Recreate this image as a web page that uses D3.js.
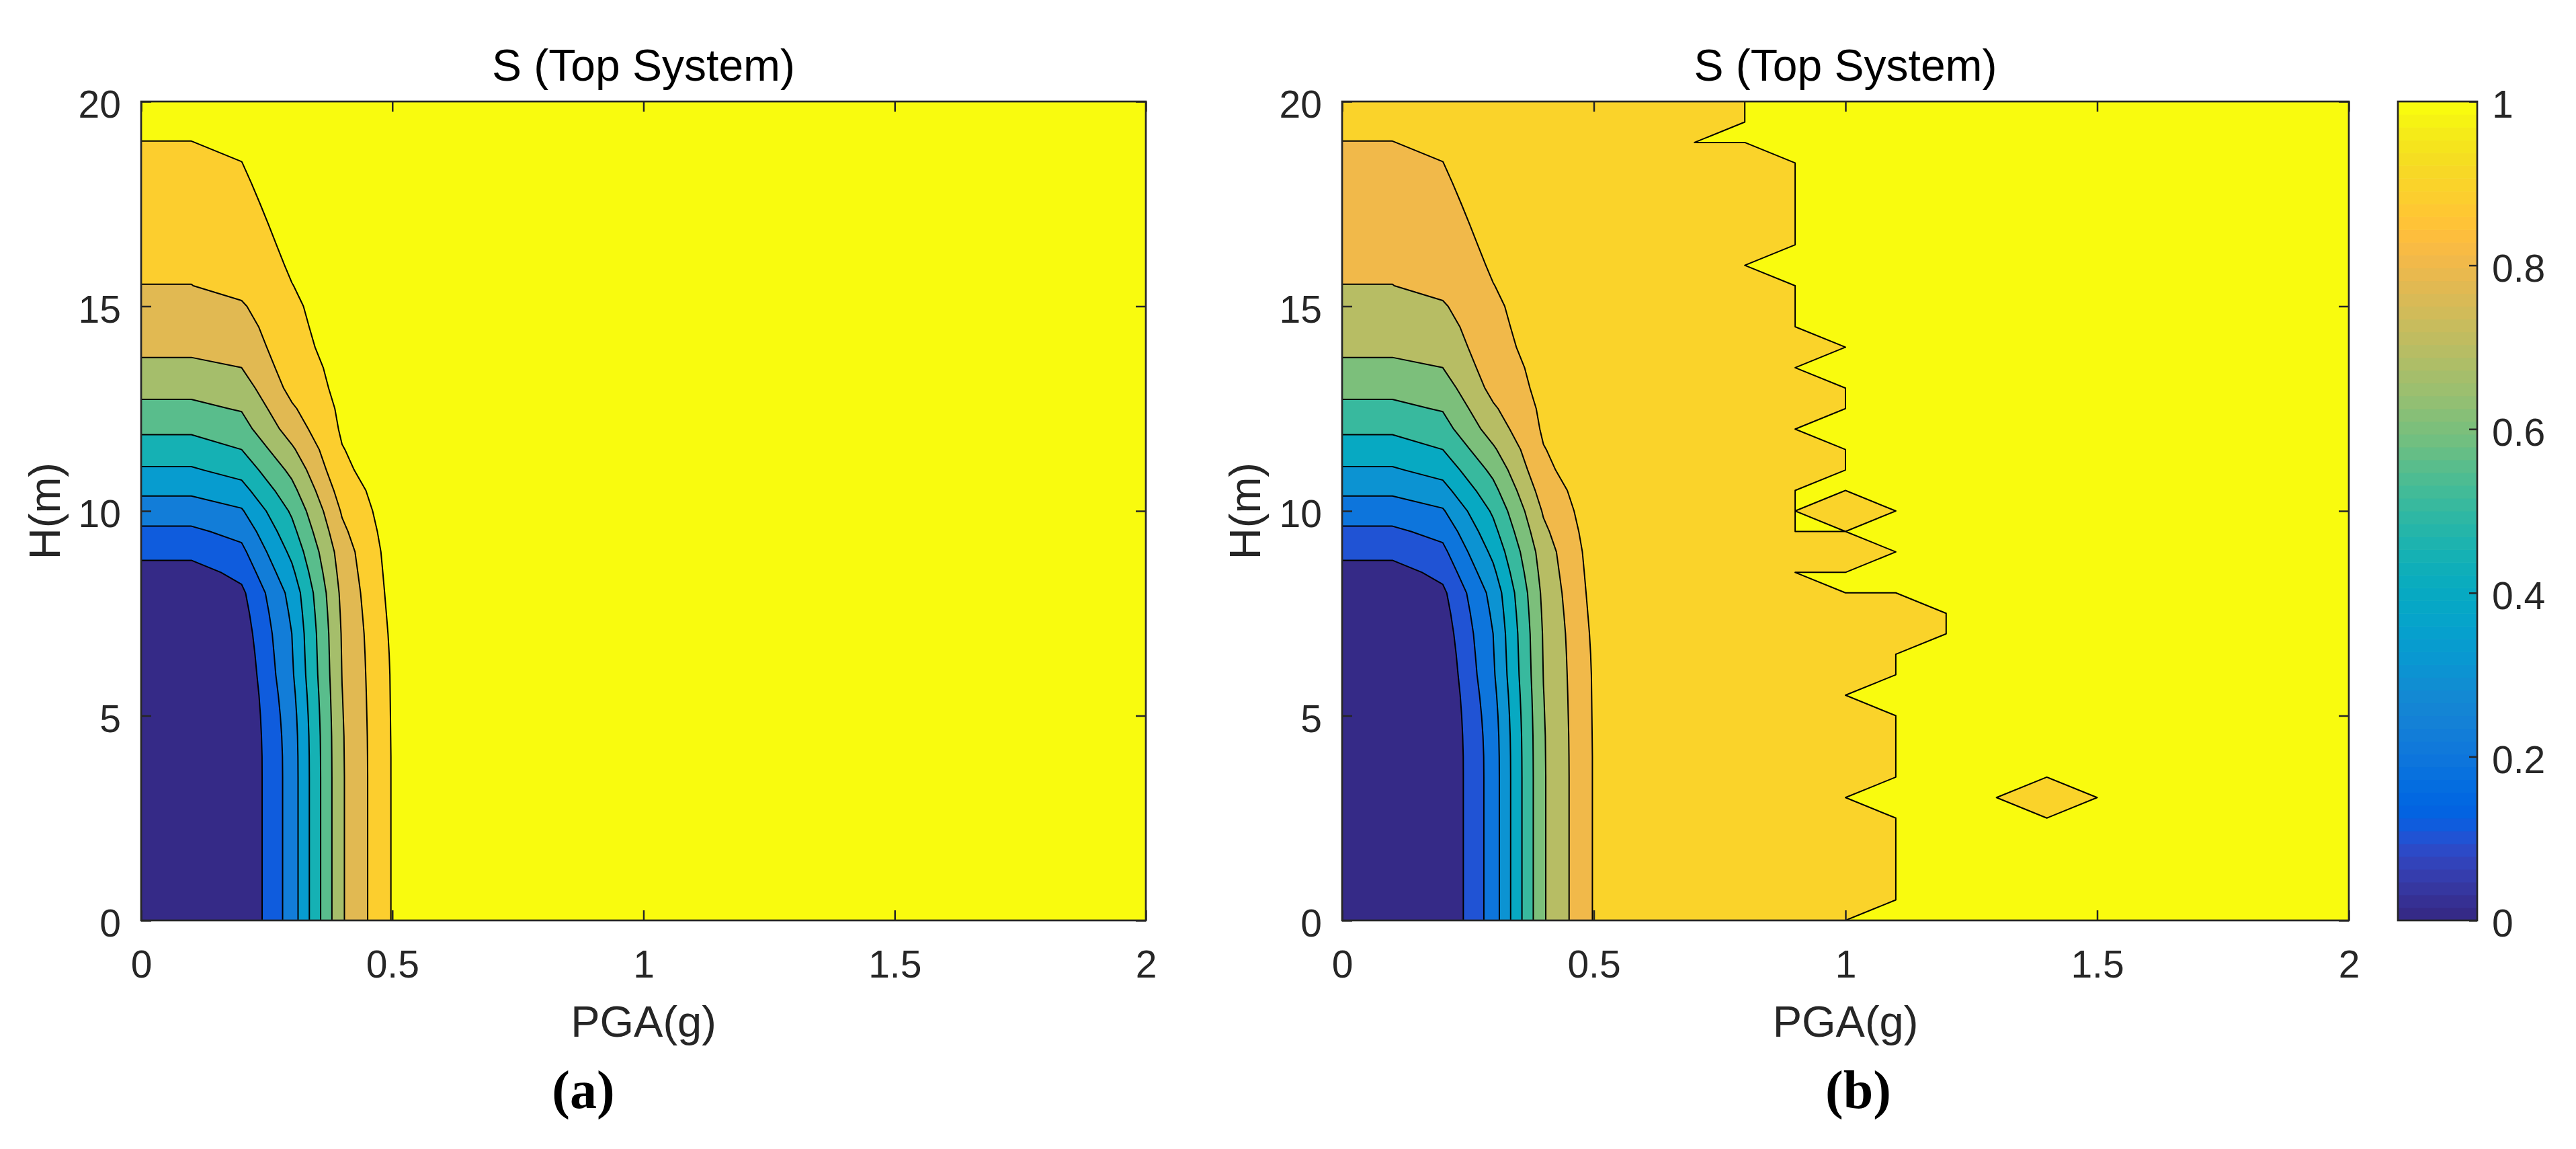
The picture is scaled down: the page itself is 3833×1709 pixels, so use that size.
<!DOCTYPE html>
<html>
<head>
<meta charset="utf-8">
<script src="https://cdn.jsdelivr.net/npm/d3@7"></script>
<style>
  html, body { margin: 0; padding: 0; background: #fff; }
  svg { display: block; }
  text { font-family: "Liberation Sans", Arial, Helvetica, sans-serif; }
</style>
</head>
<body>
<svg id="fig" width="3833" height="1709"></svg>
<script>
// grid the survival surface was sampled on
var pgaGrid = [0, 0.1, 0.2, 0.3, 0.4, 0.5, 0.6, 0.7, 0.8, 0.9, 1, 1.1, 1.2, 1.3, 1.4, 1.5, 1.6, 1.7, 1.8, 1.9, 2];
var hGrid = [0, 0.5, 1, 1.5, 2, 2.5, 3, 3.5, 4, 4.5, 5, 5.5, 6, 6.5, 7, 7.5, 8, 8.5, 9, 9.5,
  10, 10.5, 11, 11.5, 12, 12.5, 13, 13.5, 14, 14.5, 15, 15.5, 16, 16.5, 17, 17.5, 18, 18.5, 19, 19.5, 20];

// S at PGA = 0, 0.1 ... 0.5 (columns) for every H of hGrid (rows, H = 0 first)
var sNear = [
  [0, 0, 0, 0.245, 0.690, 0.906],
  [0, 0, 0, 0.245, 0.690, 0.906],
  [0, 0, 0, 0.245, 0.690, 0.906],
  [0, 0, 0, 0.245, 0.690, 0.906],
  [0, 0, 0, 0.245, 0.690, 0.906],
  [0, 0, 0, 0.245, 0.690, 0.906],
  [0, 0, 0, 0.245, 0.690, 0.906],
  [0, 0, 0, 0.245, 0.690, 0.906],
  [0, 0, 0, 0.246, 0.691, 0.906],
  [0, 0, 0.002, 0.250, 0.692, 0.907],
  [0, 0, 0.005, 0.258, 0.695, 0.908],
  [0, 0, 0.010, 0.270, 0.698, 0.909],
  [0, 0, 0.019, 0.285, 0.702, 0.910],
  [0, 0, 0.030, 0.293, 0.705, 0.913],
  [0, 0, 0.044, 0.300, 0.708, 0.918],
  [0, 0, 0.060, 0.316, 0.715, 0.925],
  [0, 0, 0.080, 0.334, 0.723, 0.932],
  [0.060, 0.060, 0.128, 0.379, 0.737, 0.938],
  [0.128, 0.128, 0.176, 0.424, 0.750, 0.944],
  [0.183, 0.183, 0.229, 0.470, 0.780, 0.951],
  [0.249, 0.249, 0.290, 0.515, 0.810, 0.958],
  [0.319, 0.319, 0.364, 0.570, 0.845, 0.961],
  [0.389, 0.389, 0.435, 0.625, 0.880, 0.963],
  [0.455, 0.455, 0.500, 0.685, 0.896, 0.966],
  [0.517, 0.517, 0.560, 0.745, 0.912, 0.970],
  [0.580, 0.580, 0.607, 0.787, 0.919, 0.972],
  [0.624, 0.624, 0.652, 0.829, 0.926, 0.974],
  [0.680, 0.680, 0.700, 0.850, 0.930, 0.976],
  [0.720, 0.720, 0.730, 0.870, 0.935, 0.978],
  [0.740, 0.740, 0.760, 0.878, 0.942, 0.980],
  [0.768, 0.768, 0.790, 0.885, 0.950, 0.980],
  [0.799, 0.799, 0.826, 0.898, 0.955, 0.980],
  [0.812, 0.812, 0.835, 0.911, 0.960, 0.980],
  [0.826, 0.826, 0.848, 0.923, 0.965, 0.980],
  [0.841, 0.841, 0.860, 0.935, 0.970, 0.980],
  [0.856, 0.856, 0.872, 0.948, 0.973, 0.980],
  [0.870, 0.870, 0.885, 0.961, 0.976, 0.980],
  [0.885, 0.885, 0.899, 0.965, 0.978, 0.980],
  [0.899, 0.899, 0.914, 0.970, 0.980, 0.980],
  [0.914, 0.914, 0.929, 0.975, 0.980, 0.980],
  [0.928, 0.928, 0.944, 0.980, 0.980, 0.980]
];

// panel (b): first PGA on each H row from which S = 1
var sFullFrom = [1.0, 1.1, 1.1, 1.1, 1.1, 1.1, 1.0, 1.1, 1.1, 1.1, 1.1, 1.0, 1.1, 1.1, 1.2, 1.2,
  1.0, 0.9, 1.1, 0.9, 0.9, 0.9, 1.0, 1.0, 0.9, 1.0, 1.0, 0.9, 1.0, 0.9, 0.9, 0.9, 0.8, 0.9, 0.9,
  0.9, 0.9, 0.9, 0.7, 0.8, 0.8];
var sPlateau = 0.98;                 // S between PGA 0.6 and the full-survival edge
var sDips = [[1.0, 10], [1.4, 3]];   // single (PGA, H) nodes of panel (b) just under 1

var levelsA = [0.1, 0.2, 0.3, 0.4, 0.5, 0.6, 0.7, 0.8, 0.9];
var levelsB = [0.1, 0.2, 0.3, 0.4, 0.5, 0.6, 0.7, 0.8, 0.9, 1.0];
var xTicks = [0, 0.5, 1, 1.5, 2];
var yTicks = [0, 5, 10, 15, 20];
var cbTicks = [0, 0.2, 0.4, 0.6, 0.8, 1];

(function() {
  // MATLAB parula, 64 steps
  var parula = [
    [0.2081,0.1663,0.5292],[0.2116,0.1898,0.5777],[0.2123,0.2138,0.6270],[0.2081,0.2386,0.6771],
    [0.1959,0.2645,0.7279],[0.1707,0.2919,0.7792],[0.1253,0.3242,0.8303],[0.0591,0.3598,0.8683],
    [0.0117,0.3875,0.8820],[0.0060,0.4086,0.8828],[0.0165,0.4266,0.8786],[0.0329,0.4430,0.8720],
    [0.0498,0.4586,0.8641],[0.0629,0.4737,0.8554],[0.0723,0.4887,0.8467],[0.0779,0.5040,0.8384],
    [0.0793,0.5200,0.8312],[0.0749,0.5375,0.8263],[0.0641,0.5570,0.8240],[0.0488,0.5772,0.8228],
    [0.0343,0.5966,0.8199],[0.0265,0.6137,0.8135],[0.0239,0.6287,0.8038],[0.0231,0.6418,0.7913],
    [0.0228,0.6535,0.7768],[0.0267,0.6642,0.7607],[0.0384,0.6743,0.7436],[0.0590,0.6838,0.7254],
    [0.0843,0.6928,0.7062],[0.1133,0.7015,0.6859],[0.1453,0.7098,0.6646],[0.1801,0.7177,0.6424],
    [0.2178,0.7250,0.6193],[0.2586,0.7317,0.5954],[0.3022,0.7376,0.5712],[0.3482,0.7424,0.5473],
    [0.3953,0.7459,0.5244],[0.4420,0.7481,0.5033],[0.4871,0.7491,0.4840],[0.5300,0.7491,0.4661],
    [0.5709,0.7485,0.4494],[0.6099,0.7473,0.4337],[0.6473,0.7456,0.4188],[0.6834,0.7435,0.4044],
    [0.7184,0.7411,0.3905],[0.7525,0.7384,0.3768],[0.7858,0.7356,0.3633],[0.8185,0.7327,0.3498],
    [0.8507,0.7299,0.3360],[0.8824,0.7274,0.3217],[0.9139,0.7258,0.3063],[0.9450,0.7261,0.2886],
    [0.9739,0.7314,0.2666],[0.9938,0.7455,0.2403],[0.9990,0.7653,0.2164],[0.9955,0.7861,0.1967],
    [0.9880,0.8066,0.1794],[0.9789,0.8271,0.1633],[0.9697,0.8481,0.1475],[0.9626,0.8705,0.1309],
    [0.9589,0.8949,0.1132],[0.9598,0.9218,0.0948],[0.9661,0.9514,0.0755],[0.9763,0.9831,0.0538]
  ].map(function(c) { return d3.rgb(c[0] * 255, c[1] * 255, c[2] * 255).formatHex(); });

  function levelColor(v, cmax) {
    var i = Math.floor(v / cmax * parula.length + 1e-9);
    return parula[Math.max(0, Math.min(parula.length - 1, i))];
  }

  function buildGrid(fullFrom) {
    var vals = [];
    hGrid.forEach(function(h, j) {
      pgaGrid.forEach(function(p, i) {
        if (i < sNear[j].length) vals.push(sNear[j][i]);
        else if (!fullFrom || p >= fullFrom[j] - 1e-9) vals.push(1);
        else vals.push(sPlateau);
      });
    });
    if (fullFrom) {
      sDips.forEach(function(d) {
        var i = pgaGrid.findIndex(function(p) { return Math.abs(p - d[0]) < 1e-6; });
        var j = hGrid.findIndex(function(h) { return Math.abs(h - d[1]) < 1e-6; });
        vals[j * pgaGrid.length + i] = sPlateau;
      });
    }
    return vals;
  }

  var svg = d3.select('#fig');
  svg.append('rect').attr('width', 3833).attr('height', 1709).attr('fill', '#fff');
  var defs = svg.append('defs');

  var plotTop = 151, plotBottom = 1369;
  var ink = '#262626';
  var panels = [
    { tag: '(a)', left: 210, right: 1705, ylabX: 89, tagX: 868, levels: levelsA, cmax: 0.9, fullFrom: null },
    { tag: '(b)', left: 1997, right: 3495, ylabX: 1875, tagX: 2765, levels: levelsB, cmax: 1, fullFrom: sFullFrom }
  ];

  function styleAxis(g, size) {
    g.select('.domain').remove();
    g.style('color', ink).attr('font-size', size);
    g.selectAll('.tick line').attr('stroke-width', 2.5);
    g.selectAll('.tick text').attr('fill', ink);
  }

  panels.forEach(function(p, k) {
    var x = d3.scaleLinear().domain([0, 2]).range([p.left, p.right]);
    var y = d3.scaleLinear().domain([0, 20]).range([plotBottom, plotTop]);
    var dp = pgaGrid[1] - pgaGrid[0], dh = hGrid[1] - hGrid[0];

    var proj = d3.geoTransform({
      point: function(cx, cy) {
        this.stream.point(x(pgaGrid[0] + (cx - 0.5) * dp), y(hGrid[0] + (cy - 0.5) * dh));
      }
    });
    var path = d3.geoPath(proj);

    var bands = d3.contours()
      .size([pgaGrid.length, hGrid.length])
      .thresholds(p.levels)(buildGrid(p.fullFrom));

    defs.append('clipPath').attr('id', 'clip' + k)
      .append('rect').attr('x', p.left).attr('y', plotTop)
      .attr('width', p.right - p.left).attr('height', plotBottom - plotTop);

    var plot = svg.append('g').attr('clip-path', 'url(#clip' + k + ')');
    plot.append('rect').attr('x', p.left).attr('y', plotTop)
      .attr('width', p.right - p.left).attr('height', plotBottom - plotTop)
      .attr('fill', levelColor(0, p.cmax));

    plot.selectAll('path.band').data(bands).enter().append('path')
      .attr('class', 'band')
      .attr('d', path)
      .attr('fill', function(d) { return levelColor(d.value, p.cmax); })
      .attr('fill-rule', 'evenodd')
      .attr('stroke', 'none');

    plot.selectAll('path.iso').data(bands).enter().append('path')
      .attr('class', 'iso')
      .attr('d', path)
      .attr('fill', 'none')
      .attr('stroke', '#000')
      .attr('stroke-width', 2)
      .attr('stroke-linejoin', 'round');

    // axes: ticks inside on all four sides
    var fmt = function(d) { return String(d); };
    var gx = svg.append('g').attr('transform', 'translate(0,' + plotBottom + ')')
      .call(d3.axisBottom(x).tickValues(xTicks).tickFormat(fmt).tickSize(-15).tickPadding(44.5));
    styleAxis(gx, 57);
    var gxt = svg.append('g').attr('transform', 'translate(0,' + plotTop + ')')
      .call(d3.axisTop(x).tickValues(xTicks).tickFormat('').tickSize(-15));
    styleAxis(gxt, 57);
    var gy = svg.append('g').attr('transform', 'translate(' + p.left + ',0)')
      .call(d3.axisLeft(y).tickValues(yTicks).tickFormat(fmt).tickSize(-15).tickPadding(30));
    styleAxis(gy, 57);
    gy.selectAll('.tick text').attr('dy', '0.42em');
    var gyr = svg.append('g').attr('transform', 'translate(' + p.right + ',0)')
      .call(d3.axisRight(y).tickValues(yTicks).tickFormat('').tickSize(-15));
    styleAxis(gyr, 57);

    svg.append('rect').attr('x', p.left).attr('y', plotTop)
      .attr('width', p.right - p.left).attr('height', plotBottom - plotTop)
      .attr('fill', 'none').attr('stroke', ink).attr('stroke-width', 2.7);

    var cx = (p.left + p.right) / 2;
    svg.append('text').attr('x', cx).attr('y', 120).attr('text-anchor', 'middle')
      .attr('font-size', 66).attr('fill', '#000').text('S (Top System)');
    svg.append('text').attr('x', cx).attr('y', 1542).attr('text-anchor', 'middle')
      .attr('font-size', 65).attr('fill', ink).text('PGA(g)');
    svg.append('text')
      .attr('transform', 'translate(' + p.ylabX + ',' + (plotTop + plotBottom) / 2 + ') rotate(-90)')
      .attr('text-anchor', 'middle').attr('font-size', 65).attr('fill', ink).text('H(m)');
    svg.append('text').attr('x', p.tagX).attr('y', 1648).attr('text-anchor', 'middle')
      .style('font-family', '"Liberation Serif", "Times New Roman", serif')
      .attr('font-weight', 'bold').attr('font-size', 80).attr('fill', '#000').text(p.tag);
  });

  // colorbar for panel (b)
  var cbLeft = 3568, cbRight = 3686;
  var cb = d3.scaleLinear().domain([0, 1]).range([plotBottom, plotTop]);
  var step = 1 / parula.length;
  svg.append('g').selectAll('rect').data(parula).enter().append('rect')
    .attr('x', cbLeft)
    .attr('width', cbRight - cbLeft)
    .attr('y', function(d, i) { return cb((i + 1) * step); })
    .attr('height', function(d, i) { return cb(i * step) - cb((i + 1) * step) + 0.6; })
    .attr('fill', function(d) { return d; });
  var gcb = svg.append('g').attr('transform', 'translate(' + cbRight + ',0)')
    .call(d3.axisRight(cb).tickValues(cbTicks).tickFormat(function(d) { return String(d); })
      .tickSize(-12).tickPadding(22));
  styleAxis(gcb, 57);
  gcb.selectAll('.tick text').attr('dy', '0.42em');
  svg.append('rect').attr('x', cbLeft).attr('y', plotTop)
    .attr('width', cbRight - cbLeft).attr('height', plotBottom - plotTop)
    .attr('fill', 'none').attr('stroke', ink).attr('stroke-width', 2.7);
})();
</script>
</body>
</html>
